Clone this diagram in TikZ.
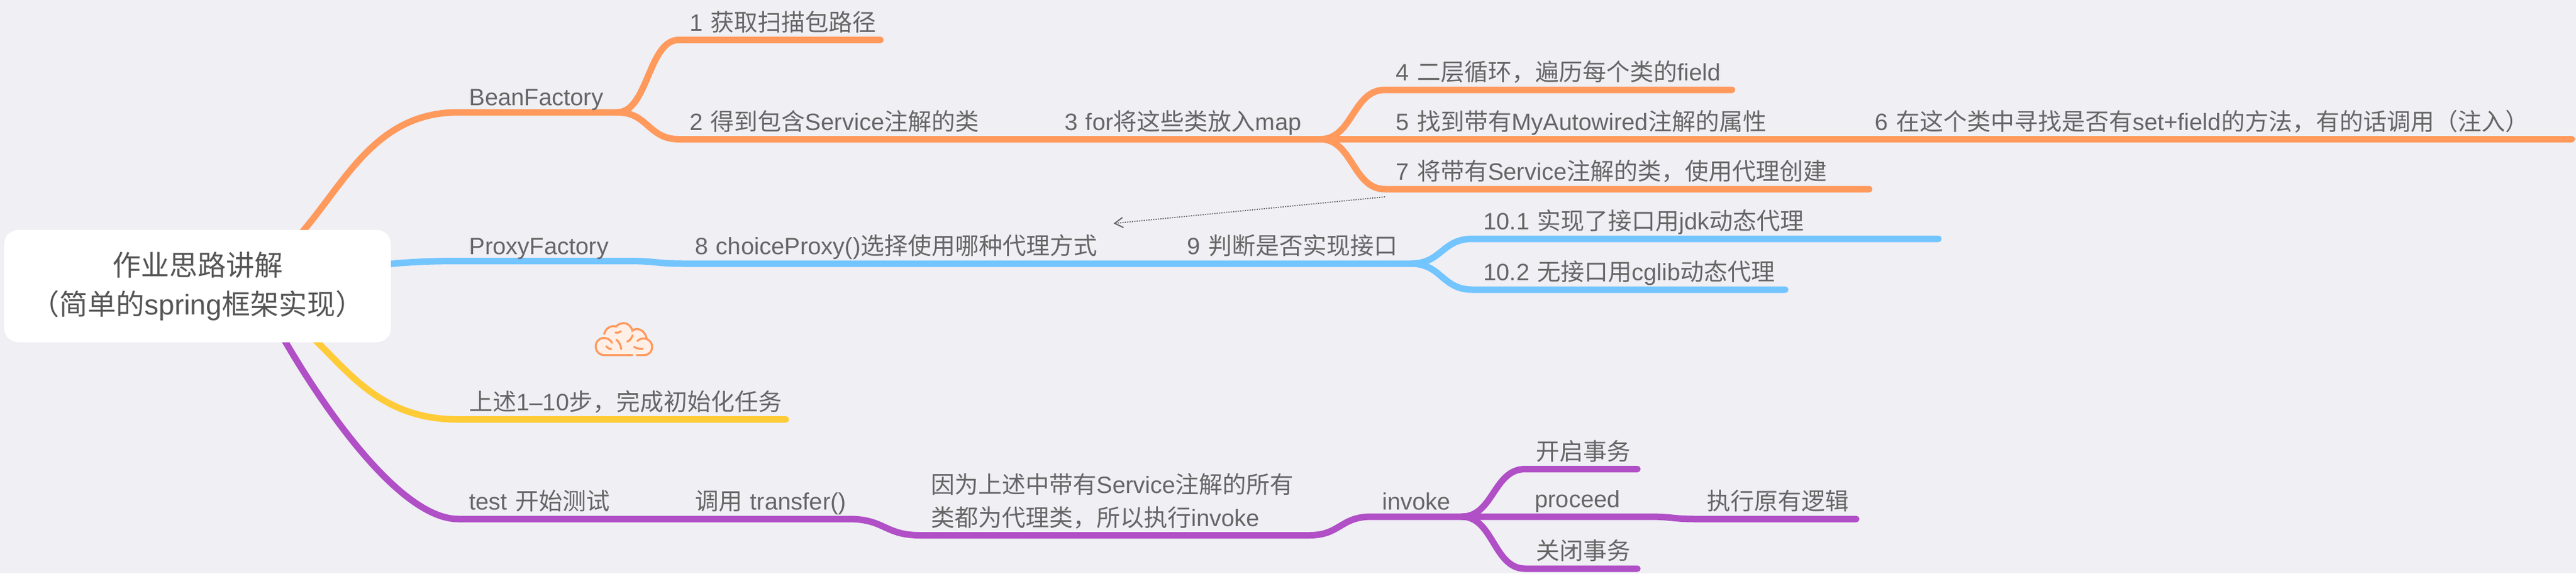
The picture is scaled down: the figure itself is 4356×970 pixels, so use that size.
\documentclass[tikz,border=0pt]{standalone}
\usepackage{fontspec}
\usetikzlibrary{arrows.meta, backgrounds, calc}
\setmainfont{Liberation Sans}
\newfontfamily\cjk{Noto Sans CJK SC}
\newcommand{\zh}[1]{{\cjk #1}}
\definecolor{paper}{HTML}{EFEFF4}
\definecolor{words}{HTML}{666666}
\definecolor{rootwords}{HTML}{555555}
\definecolor{beanline}{HTML}{FF995C}
\definecolor{proxyline}{HTML}{73C5FF}
\definecolor{initline}{HTML}{FFCB37}
\definecolor{testline}{HTML}{B04FC6}
\definecolor{brainfill}{HTML}{FFEFE6}

\begin{document}
\begin{tikzpicture}
                \tikzset{x=0.5pt, y=-0.5pt}
                \tikzstyle{root}=[rectangle, rounded corners=12pt, fill=white, inner sep=0pt, minimum width=327pt, minimum height=95pt, align=center, text=rootwords, font=\fontsize{24}{33}\selectfont]
                \tikzstyle{link}=[line width=5.5pt, line cap=round, line join=round]
                \tikzset{topic/.style={anchor=south west, inner sep=0pt, text width=#1*0.5pt, text height=14pt, text depth=7.5pt, align=left, text=words, font=\fontsize{20}{28}\selectfont, execute at begin node={\leftskip=9pt\relax}}}
                \tikzset{branch/.style={to path={let \p1=(\tikztostart), \p2=(\tikztotarget), \n1={(\x1+\x2)/2} in .. controls (\n1,\y1) and (\n1,\y2) .. (\tikztotarget)}}}

                \useasboundingbox (0, 0) rectangle (4356, 970);

                \draw (334, 484)    node[root]      (root)  {\zh{作业思路讲解}\\\zh{（简单的}spring\zh{框架实现）}};

                \draw (775, 190)    node[topic=268, text depth=5.5pt] (bf) {BeanFactory};
                \draw (1148, 67.5)  node[topic=340] (t1)    {1 \zh{获取扫描包路径}};
                \draw (1148, 235.5) node[topic=634] (t2)    {2 \zh{得到包含}Service\zh{注解的类}};
                \draw (1782, 235.5) node[topic=450] (t3)    {3 for\zh{将这些类放入}map};
                \draw (2342, 152)   node[topic=586] (t4)    {4 \zh{二层循环，遍历每个类的}field};
                \draw (2342, 235.5) node[topic=810] (t5)    {5 \zh{找到带有}MyAutowired\zh{注解的属性}};
                \draw (3152, 235.5) node[topic=1196] (t6)   {6 \zh{在这个类中寻找是否有}set+field\zh{的方法，有的话调用（注入）}};
                \draw (2342, 320)   node[topic=818] (t7)    {7 \zh{将带有}Service\zh{注解的类，使用代理创建}};

                \draw (775, 441.5)  node[topic=285, text depth=5.5pt] (pf) {ProxyFactory};
                \draw (1157, 446)   node[topic=832] (t8)    {8 choiceProxy()\zh{选择使用哪种代理方式}};
                \draw (1989, 446)   node[topic=396] (t9)    {9 \zh{判断是否实现接口}};
                \draw (2490, 404)   node[topic=787] (t10a)  {10.1 \zh{实现了接口用}jdk\zh{动态代理}};
                \draw (2490, 490)   node[topic=528] (t10b)  {10.2 \zh{无接口用}cglib\zh{动态代理}};

                \draw (775, 709.5)  node[topic=553] (done)  {\zh{上述}1--10\zh{步，完成初始化任务}};

                \draw (775, 878)    node[topic=382] (test)  {test \zh{开始测试}};
                \draw (1157, 878)   node[topic=278] (call)  {\zh{调用} transfer()};
                \draw (1556, 905.5) node[topic=657, text depth=35.5pt] (why) {\zh{因为上述中带有}Service\zh{注解的所有}\\\zh{类都为代理类，所以执行}invoke};
                \draw (2319, 874)   node[topic=152, text depth=5.5pt] (inv) {invoke};
                \draw (2579, 793.5) node[topic=189] (open)  {\zh{开启事务}};
                \draw (2577, 874)   node[topic=210] (proc)  {proceed};
                \draw (2868, 878)   node[topic=270] (orig)  {\zh{执行原有逻辑}};
                \draw (2579, 962)   node[topic=189] (shut)  {\zh{关闭事务}};

                \coordinate (dotstart) at (2342, 333);
                \coordinate (dotend)   at (1883, 378);
                \draw [dash pattern=on 1pt off 1pt, line width=0.9pt, words, -{Straight Barb[length=7pt, width=8.5pt, line width=1pt, sep=0pt]}] (dotstart) -- (dotend);

                \begin{scope}[on background layer]
                \fill [paper] (0, 0) rectangle (4356, 970);

                \draw [link, beanline] (root.center) to[branch] (bf.south west) -- (bf.south east) to[branch] (t1.south west) -- (t1.south east);
                \draw [link, beanline] (bf.south east) to[branch] (t2.south west) -- (t3.south east) to[branch] (t4.south west) -- (t4.south east);
                \draw [link, beanline] (t3.south east) to[branch] (t5.south west) -- (t6.south east);
                \draw [link, beanline] (t3.south east) to[branch] (t7.south west) -- (t7.south east);

                \draw [link, proxyline] (root.center) to[branch] (pf.south west) -- (pf.south east) to[branch] (t8.south west) -- (t9.south east) to[branch] (t10a.south west) -- (t10a.south east);
                \draw [link, proxyline] (t9.south east) to[branch] (t10b.south west) -- (t10b.south east);

                \draw [link, initline] (root.center) to[branch] (done.south west) -- (done.south east);

                \draw [link, testline] (root.center) -- (440, 500) .. controls (500, 620) and (660, 878) .. (test.south west) -- (call.south east) to[branch] (why.south west) -- (why.south east) to[branch] (inv.south west) -- (inv.south east) to[branch] (open.south west) -- (open.south east);
                \draw [link, testline] (inv.south east) to[branch] (proc.south west) -- (proc.south east) to[branch] (orig.south west) -- (orig.south east);
                \draw [link, testline] (inv.south east) to[branch] (shut.south west) -- (shut.south east);
                \end{scope}

                % brain
                \begin{scope}[shift={(950, 500)}, x=0.1667pt, y=-0.1667pt, line width=1.7pt, line cap=round, beanline]
                \fill [brainfill] (215, 302) .. controls (190, 302) and (172, 282) .. (172, 258) .. controls (172, 234) and (190, 215) .. (213, 215) -- (215, 195) .. controls (222, 170) and (240, 155) .. (262, 155) -- (275, 157) .. controls (285, 146) and (300, 140) .. (315, 140) .. controls (335, 140) and (352, 155) .. (358, 178) .. controls (365, 172) and (372, 170) .. (380, 170) .. controls (405, 170) and (425, 190) .. (430, 218) .. controls (445, 222) and (458, 240) .. (458, 260) .. controls (458, 285) and (440, 302) .. (420, 302) -- cycle;
                \draw (358, 302) -- (215, 302) .. controls (190, 302) and (172, 282) .. (172, 258) .. controls (172, 234) and (190, 215) .. (213, 215) .. controls (232, 215) and (247, 225) .. (255, 240);
                \draw (215, 195) .. controls (222, 170) and (240, 155) .. (262, 155) -- (275, 157) .. controls (285, 146) and (300, 140) .. (315, 140) .. controls (335, 140) and (352, 155) .. (358, 178) .. controls (365, 172) and (372, 170) .. (380, 170) .. controls (405, 170) and (425, 190) .. (430, 218);
                \draw (383, 230) .. controls (395, 220) and (410, 216) .. (420, 218) .. controls (445, 222) and (458, 240) .. (458, 260) .. controls (458, 285) and (440, 302) .. (420, 302) -- (380, 302);
                \draw (272, 188) .. controls (283, 190) and (293, 187) .. (300, 181);
                \draw (277, 224) .. controls (290, 235) and (300, 252) .. (301, 272);
                \draw (332, 234) .. controls (345, 228) and (355, 215) .. (359, 202);
                \draw (225, 257) .. controls (232, 265) and (240, 271) .. (250, 272);
                \draw (367, 260) .. controls (378, 268) and (395, 272) .. (409, 270);
                \end{scope}
            \end{tikzpicture}
\end{document}
